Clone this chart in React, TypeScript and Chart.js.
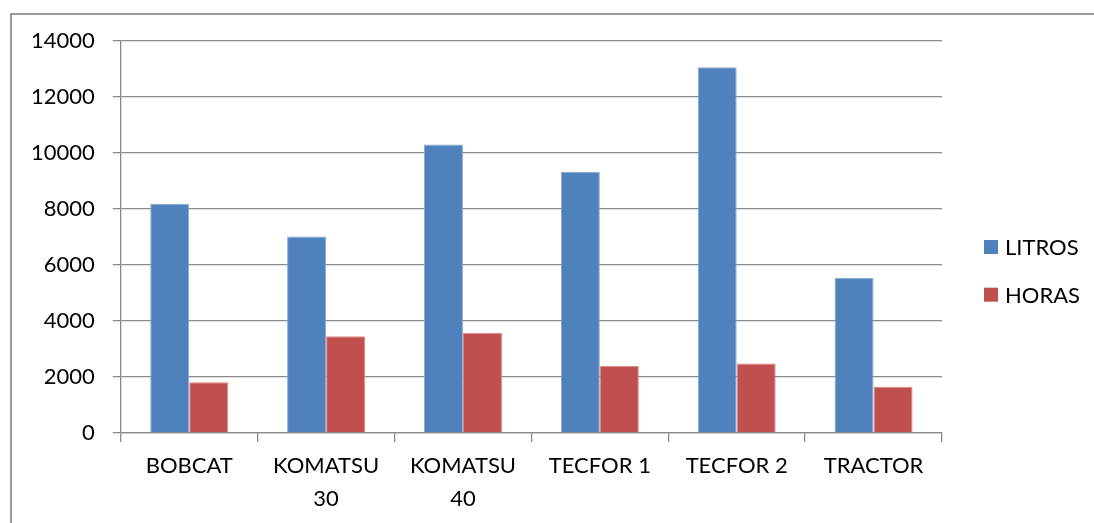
import React, { useEffect, useRef } from "react";
import { Chart, registerables } from "chart.js";

Chart.register(...registerables);

const categories: (string | string[])[] = [
  "BOBCAT",
  ["KOMATSU", "30"],
  ["KOMATSU", "40"],
  "TECFOR 1",
  "TECFOR 2",
  "TRACTOR",
];
const litros = [8190, 7020, 10300, 9330, 13060, 5540];
const horas = [1810, 3450, 3570, 2400, 2480, 1650];
const seriesNames = ["LITROS", "HORAS"];
const seriesColors = ["#4F81BD", "#C0504D"];
const seriesBorders = ["#8AAAD6", "#DA8A88"];

const FONT = "Lato, 'Open Sans', sans-serif";

const sideLegend = {
  id: "sideLegend",
  afterDraw(chart: any) {
    const { ctx, chartArea } = chart;
    ctx.save();
    ctx.font = `22px ${FONT}`;
    ctx.textBaseline = "middle";
    ctx.textAlign = "left";
    const x = chartArea.right + 42;
    const y0 = chartArea.top + 199;
    chart.data.datasets.forEach((ds: any, i: number) => {
      const y = y0 + i * 47.7;
      ctx.fillStyle = ds.backgroundColor;
      ctx.fillRect(x, y, 14, 14);
      ctx.fillStyle = "#000";
      ctx.fillText(ds.label, x + 21, y + 8);
    });
    ctx.restore();
  },
};

export default function App() {
  const ref = useRef<HTMLCanvasElement | null>(null);

  useEffect(() => {
    if (!ref.current) return;
    const chart = new Chart(ref.current, {
      type: "bar",
      data: {
        labels: categories,
        datasets: [
          {
            label: seriesNames[0],
            data: litros,
            backgroundColor: seriesColors[0],
            borderColor: seriesBorders[0],
            borderWidth: 1,
            categoryPercentage: 0.57,
            barPercentage: 1,
          },
          {
            label: seriesNames[1],
            data: horas,
            backgroundColor: seriesColors[1],
            borderColor: seriesBorders[1],
            borderWidth: 1,
            categoryPercentage: 0.57,
            barPercentage: 1,
          },
        ],
      },
      options: {
        responsive: false,
        animation: false,
        maintainAspectRatio: false,
        layout: { padding: { left: 13, right: 152, top: 41, bottom: 0 } },
        plugins: {
          legend: { display: false },
          tooltip: { enabled: false },
        },
        scales: {
          x: {
            grid: {
              offset: true,
              drawOnChartArea: false,
              drawTicks: true,
              tickLength: 9,
              color: "#8a8a8a",
              lineWidth: 1.3,
            },
            border: { display: true, color: "#8a8a8a", width: 1.3 },
            ticks: {
              color: "#000",
              font: { family: FONT, size: 22, lineHeight: 1.48 },
              padding: 8,
              maxRotation: 0,
              autoSkip: false,
            },
          },
          y: {
            min: 0,
            max: 14000,
            grid: {
              color: "#8a8a8a",
              lineWidth: 1.3,
              tickLength: 8,
              drawTicks: true,
            },
            border: { display: true, color: "#8a8a8a", width: 1.3 },
            ticks: {
              stepSize: 2000,
              color: "#000",
              font: { family: FONT, size: 22 },
              padding: 18,
              callback: (v: any) => String(v),
            },
          },
        },
      },
      plugins: [sideLegend],
    });
    return () => chart.destroy();
  }, []);

  return (
    <div
      style={{
        position: "fixed",
        left: 0,
        top: 0,
        width: 1094,
        height: 523,
        overflow: "hidden",
        background: "#fff",
      }}
    >
      <div
        style={{
          position: "absolute",
          left: 10,
          top: 13,
          width: 1200,
          height: 600,
          border: "2px solid #9a9a9a",
          boxSizing: "border-box",
        }}
      />
      <canvas
        ref={ref}
        width={1094}
        height={523}
        style={{ position: "absolute", left: 0, top: 0, width: 1094, height: 523 }}
      />
    </div>
  );
}
